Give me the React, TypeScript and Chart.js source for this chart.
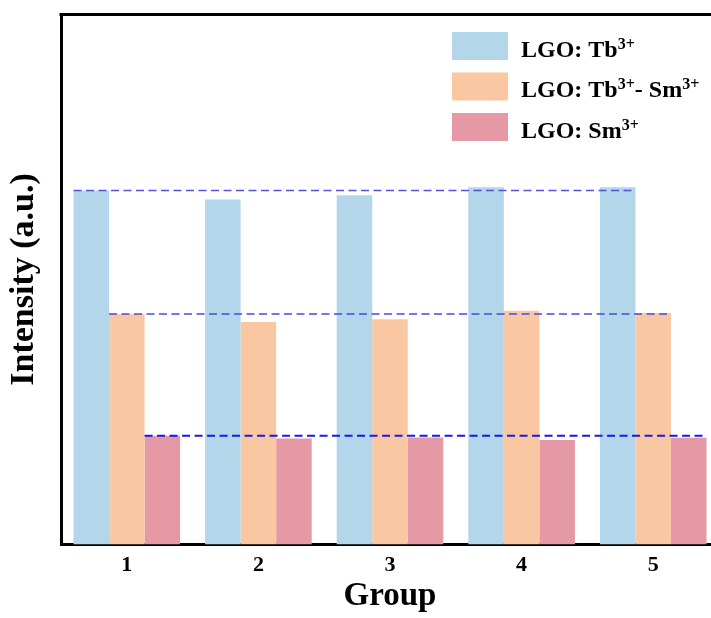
import React, { useEffect, useRef } from 'react';
import { Chart, registerables } from 'chart.js';

Chart.register(...registerables);

const categories = ['1', '2', '3', '4', '5'];
const tbValues = [66.8, 65.1, 65.9, 67.4, 67.4];
const tbSmValues = [43.5, 42.0, 42.5, 44.1, 43.7];
const smValues = [20.5, 20.0, 20.2, 19.7, 20.15];

const seriesNames = ['LGO: Tb3+', 'LGO: Tb3+- Sm3+', 'LGO: Sm3+'];
const legendPieces = [
  [{ t: 'LGO: Tb', sup: false }, { t: '3+', sup: true }],
  [{ t: 'LGO: Tb', sup: false }, { t: '3+', sup: true }, { t: '- Sm', sup: false }, { t: '3+', sup: true }],
  [{ t: 'LGO: Sm', sup: false }, { t: '3+', sup: true }],
];

const barColors = ['#b3d6eb', '#f9c7a1', '#e499a5'];
const refLineColors = ['#5252dc', '#4a4ade', '#1818e8'];
const FONT = '"Liberation Serif", "Times New Roman", serif';

const refLinesPlugin = {
  id: 'refLines',
  afterDatasetsDraw(chart: any) {
    const ctx = chart.ctx;
    ctx.save();
    chart.data.datasets.forEach((_: any, i: number) => {
      const meta = chart.getDatasetMeta(i);
      const first = meta.data[0];
      const last = meta.data[meta.data.length - 1];
      const x1 = first.x - first.width / 2;
      const x2 = last.x + last.width / 2;
      const y = first.y;
      ctx.beginPath();
      ctx.setLineDash([8, 4.5]);
      ctx.lineWidth = i === 2 ? 2 : 1.6;
      ctx.strokeStyle = refLineColors[i];
      ctx.moveTo(x1, y);
      ctx.lineTo(x2, y);
      ctx.stroke();
    });
    ctx.restore();
  },
};

const framePlugin = {
  id: 'frameTop',
  afterDraw(chart: any) {
    const { ctx, chartArea } = chart;
    ctx.save();
    ctx.beginPath();
    ctx.lineWidth = 3;
    ctx.strokeStyle = '#000';
    ctx.moveTo(chartArea.left - 1.5, chartArea.top);
    ctx.lineTo(chart.width, chartArea.top);
    ctx.stroke();
    ctx.restore();
  },
};

const legendPlugin = {
  id: 'customLegend',
  afterDraw(chart: any) {
    const ctx = chart.ctx;
    ctx.save();
    const boxX = 452;
    const boxW = 56;
    const boxH = 28;
    const firstTop = 32;
    const step = 40.5;
    const textX = 521;
    legendPieces.forEach((pieces, i) => {
      const top = firstTop + i * step;
      ctx.fillStyle = barColors[i];
      ctx.fillRect(boxX, top, boxW, boxH);
      const baseline = top + 24.5;
      let x = textX;
      ctx.fillStyle = '#000';
      ctx.textBaseline = 'alphabetic';
      ctx.textAlign = 'left';
      pieces.forEach((p) => {
        if (p.sup) {
          ctx.font = `bold 16px ${FONT}`;
          ctx.fillText(p.t, x, baseline - 8);
        } else {
          ctx.font = `bold 24px ${FONT}`;
          ctx.fillText(p.t, x, baseline);
        }
        x += ctx.measureText(p.t).width;
      });
    });
    ctx.restore();
  },
};

export default function App() {
  const canvasRef = useRef<HTMLCanvasElement>(null);

  useEffect(() => {
    if (!canvasRef.current) return;
    const chart = new Chart(canvasRef.current, {
      type: 'bar',
      data: {
        labels: categories,
        datasets: [
          { label: seriesNames[0], data: tbValues, backgroundColor: barColors[0], borderWidth: 0 },
          { label: seriesNames[1], data: tbSmValues, backgroundColor: barColors[1], borderWidth: 0 },
          { label: seriesNames[2], data: smValues, backgroundColor: barColors[2], borderWidth: 0 },
        ],
      },
      options: {
        responsive: false,
        animation: false,
        devicePixelRatio: 1,
        layout: { padding: { left: 0, top: 14.5, right: 11, bottom: 0 } },
        datasets: {
          bar: { categoryPercentage: 0.81, barPercentage: 1 },
        },
        plugins: {
          legend: { display: false },
          tooltip: { enabled: false },
        },
        scales: {
          x: {
            grid: { display: false, drawTicks: false },
            border: { display: true, width: 3, color: '#000' },
            ticks: {
              color: '#000',
              padding: 8,
              font: { family: FONT, size: 22, weight: 'bold' },
            },
            title: {
              display: true,
              text: 'Group',
              color: '#000',
              font: { family: FONT, size: 33, weight: 'bold', lineHeight: 1 },
              padding: { top: 0, bottom: 5.5 },
            },
            afterFit: (s: any) => {
              s.height = 73.5;
            },
          },
          y: {
            min: 0,
            max: 100,
            grid: { display: false, drawTicks: false },
            border: { display: true, width: 3, color: '#000' },
            ticks: { display: false },
            title: {
              display: true,
              text: 'Intensity (a.u.)',
              color: '#000',
              font: { family: FONT, size: 34, weight: 'bold', lineHeight: 1 },
              padding: { top: 7, bottom: 0 },
            },
            afterFit: (s: any) => {
              s.width = 61;
            },
          },
        },
      },
      plugins: [refLinesPlugin, framePlugin, legendPlugin],
    });
    return () => chart.destroy();
  }, []);

  return (
    <div
      style={{
        position: 'absolute',
        left: 0,
        top: 0,
        width: 711,
        height: 618,
        overflow: 'hidden',
        background: '#fff',
      }}
    >
      <canvas ref={canvasRef} width={730} height={618} style={{ display: 'block' }} />
    </div>
  );
}
